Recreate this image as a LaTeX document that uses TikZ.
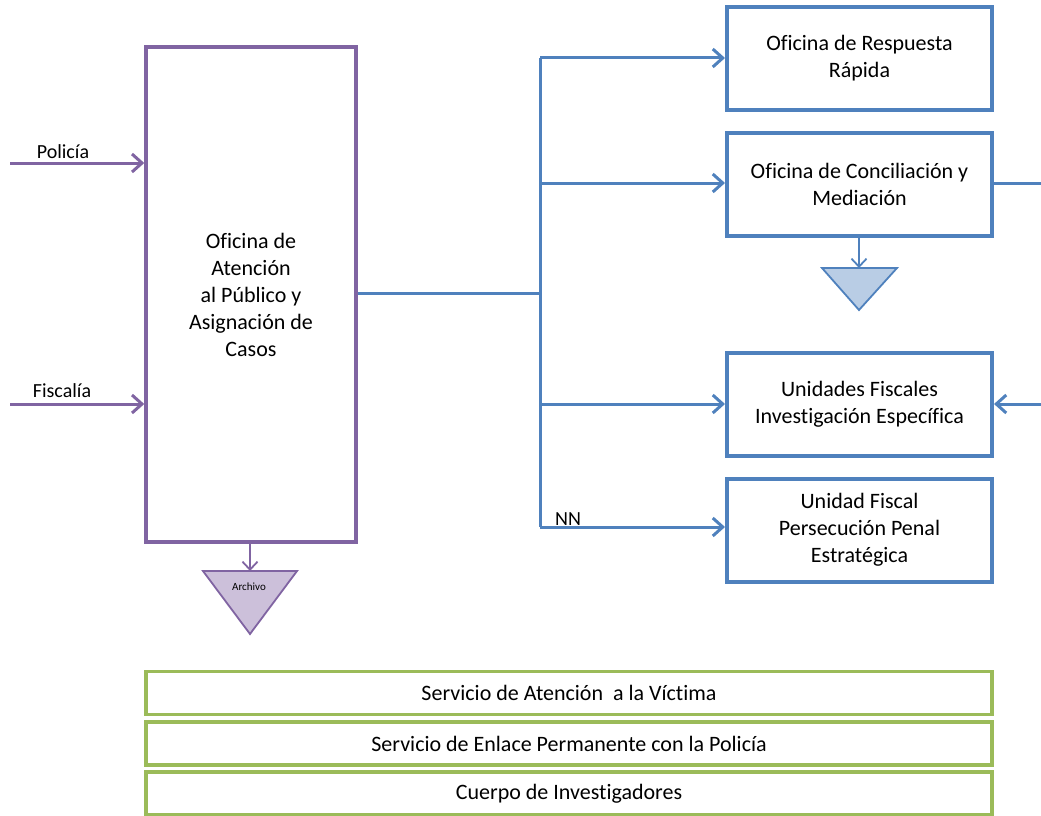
\documentclass[tikz,border=0pt]{standalone}
\usepackage{fontspec}
\setmainfont{Carlito}[Ligatures=NoCommon]
\usetikzlibrary{arrows.meta}
\definecolor{purp}{HTML}{8064A2}
\definecolor{purpfill}{HTML}{CCC0DA}
\definecolor{blu}{HTML}{4F81BD}
\definecolor{blufill}{HTML}{B9CDE5}
\definecolor{grn}{HTML}{9BBB59}
\tikzset{
  pbox/.style={draw=purp, line width=3.5pt, rectangle, align=center, font=\fontsize{22}{27}\selectfont},
  bbox/.style={draw=blu, line width=4pt, rectangle, minimum width=265pt, minimum height=103pt, align=center, font=\fontsize{22}{27}\selectfont},
  gbox/.style={draw=grn, line width=3.5pt, rectangle, minimum width=846pt, minimum height=43pt, align=center, font=\fontsize{22}{24}\selectfont},
  parr/.style={draw=purp, line width=3pt, -{Straight Barb[length=10pt,width=18pt,line width=3pt]}},
  barr/.style={draw=blu, line width=3pt, -{Straight Barb[length=10pt,width=18pt,line width=3pt]}},
  bline/.style={draw=blu, line width=3pt},
  lbl/.style={font=\fontsize{20}{22}\selectfont, inner sep=0pt},
}
\begin{document}
\begin{tikzpicture}[x=1pt,y=-1pt]
\useasboundingbox (0,0) rectangle (1041,816);
% purple main box
\node[pbox, minimum width=210pt, minimum height=495pt] (pb) at (251,294.5)
  {Oficina de\\Atención\\al Público y\\Asignación de\\Casos};
% inputs
\coordinate (pin) at (10,163);
\coordinate (fin) at (10,404);
\draw[parr] (pin) -- (pin -| pb.west);
\draw[parr] (fin) -- (fin -| pb.west);
\node[lbl] (lpol) at (63,152) {Policía};
\node[lbl] (lfis) at (62,391) {Fiscalía};
% archivo triangle
\coordinate (at) at (250,571);
\draw[draw=purp, line width=1.8pt, -{Straight Barb[length=8pt,width=15pt,line width=1.8pt]}] (pb.south -| at) -- (at);
\draw[draw=purp, fill=purpfill, line width=1.8pt] (203,571) -- (297,571) -- (250,634) -- cycle;
\node[font=\fontsize{11}{12}\selectfont] (arch) at (249,587) {Archivo};
% blue boxes
\node[bbox] (b1) at (859.5,58.5) {Oficina de Respuesta\\Rápida};
\node[bbox] (b2) at (859.5,184.5) {Oficina de Conciliación y\\Mediación};
\node[bbox] (b3) at (859.5,404) {Unidades Fiscales\\Investigación Específica};
\node[bbox] (b4) at (859.5,530) {Unidad Fiscal\\Persecución Penal\\Estratégica};
% trunk
\coordinate (jm) at (540,293);
\coordinate (j1) at (540,58);
\coordinate (j2) at (540,183);
\coordinate (j3) at (540,404);
\coordinate (j4) at (540,527);
\draw[bline] (pb.east |- jm) -- (jm);
\draw[bline] (j1) -- (j4);
\draw[barr] (j1) -- (b1.west |- j1);
\draw[barr] (j2) -- (b2.west |- j2);
\draw[barr] (j3) -- (b3.west |- j3);
\draw[barr] (j4) -- (b4.west |- j4);
\node[lbl, anchor=south west] (nn) at (555,526) {NN};
% right side
\coordinate (r2) at (1041,183);
\coordinate (r3) at (1041,404);
\draw[bline] (b2.east |- r2) -- (r2);
\draw[barr] (r3) -- (b3.east |- r3);
% blue triangle
\coordinate (bt) at (859,268);
\draw[draw=blu, line width=1.8pt, -{Straight Barb[length=8pt,width=15pt,line width=1.8pt]}] (b2.south -| bt) -- (bt);
\draw[draw=blu, fill=blufill, line width=1.8pt] (822,268) -- (897,268) -- (859,310) -- cycle;
% green boxes
\node[gbox] (g1) at (569,693) {Servicio de Atención\ \ a la Víctima};
\node[gbox] (g2) at (569,743.5) {Servicio de Enlace Permanente con la Policía};
\node[gbox] (g3) at (569,793.5) {Cuerpo de Investigadores};
\end{tikzpicture}
\end{document}
